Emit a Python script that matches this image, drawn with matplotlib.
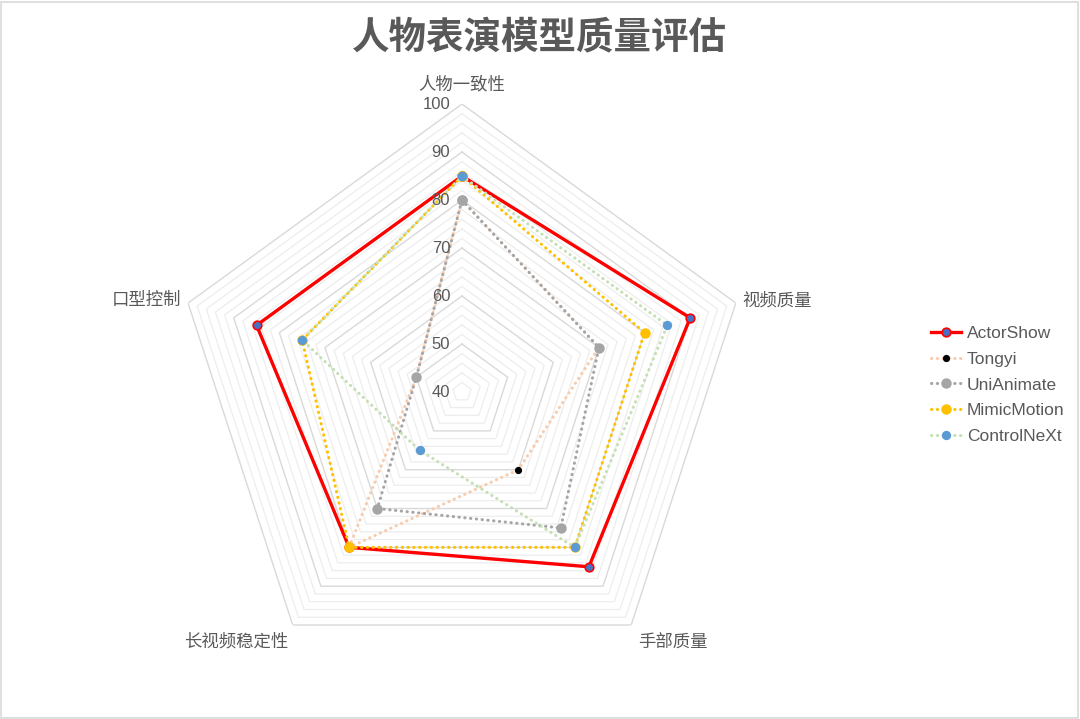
import numpy as np
import matplotlib.pyplot as plt
from matplotlib.patches import Rectangle

plt.rcParams['font.family'] = ['Liberation Sans', 'Noto Sans CJK SC', 'DejaVu Sans']

# data
title = "人物表演模型质量评估"
categories = ["人物一致性", "视频质量", "手部质量", "长视频稳定性", "口型控制"]
models = ["ActorShow", "Tongyi", "UniAnimate", "MimicMotion", "ControlNeXt"]
actorshow = [85, 90, 85, 80, 85]
tongyi = [80, 70, 60, 80, 50]
unianimate = [80, 70, 75, 70, 50]
mimicmotion = [85, 80, 80, 80, 75]
controlnext = [85, 85, 80, 55, 75]
r_ticks = [40, 50, 60, 70, 80, 90, 100]

series = [actorshow, tongyi, unianimate, mimicmotion, controlnext]

# styles: line colour, line style, marker face, marker edge, marker size, line width
dots = (0, (0.1, 1.8))
styles = [
    dict(color="#FF0000", ls="-", mfc="#4472C4", mec="#FF0000", ms=6.2, lw=2.4),
    dict(color="#F8CBAD", ls=dots, mfc="#000000", mec="#000000", ms=4, lw=2.2),
    dict(color="#A5A5A5", ls=dots, mfc="#A5A5A5", mec="#A5A5A5", ms=6.3, lw=2.2),
    dict(color="#FFC000", ls=dots, mfc="#FFC000", mec="#FFC000", ms=6.3, lw=2.2),
    dict(color="#C5E0B4", ls=dots, mfc="#5B9BD5", mec="#5B9BD5", ms=5.5, lw=2.2),
]

text_color = "#595959"

fig = plt.figure(figsize=(10.8, 7.19), dpi=100)
ax = fig.add_axes([0.1611, 0.0542, 0.5333, 0.8011], polar=True)
ax.set_theta_offset(np.pi / 2)
ax.set_theta_direction(-1)

n = len(categories)
theta = np.arange(n) * 2 * np.pi / n
theta_c = np.append(theta, theta[0])

# pentagon gridlines, every 2 units, darker every 10
for r in range(42, 101, 2):
    if r % 10 == 0:
        ax.plot(theta_c, [r] * (n + 1), color="#D9D9D9", lw=1.0, zorder=1)
    else:
        ax.plot(theta_c, [r] * (n + 1), color="#EDEDED", lw=0.9, zorder=1)

handles = []
for name, vals, st in zip(models, series, styles):
    v = vals + vals[:1]
    line, = ax.plot(theta_c, v, color=st["color"], linestyle=st["ls"], lw=st["lw"],
                    dash_capstyle="round", marker="o", markersize=st["ms"],
                    markerfacecolor=st["mfc"], markeredgecolor=st["mec"],
                    markeredgewidth=1.2, zorder=3, label=name)
    handles.append(line)

ax.set_ylim(40, 100)
ax.grid(False)
ax.set_xticks([])
ax.set_yticks([])
ax.spines["polar"].set_visible(False)
ax.patch.set_alpha(0)

# radial value labels along the top axis
for r in r_ticks:
    ax.annotate(str(r), xy=(0, r), xytext=(-8.5, 0), textcoords="offset points",
                ha="right", va="center", fontsize=12, color=text_color)

# category labels
offsets = [((0, 14.5), "center"), ((5, 2), "left"), ((5, -12), "left"),
           ((-3.5, -12), "right"), ((-5, 2), "right")]
for t, lab, (off, ha) in zip(theta, categories, offsets):
    ax.annotate(lab, xy=(t, 100), xytext=off, textcoords="offset points",
                ha=ha, va="center", fontsize=12.5, color=text_color)

fig.text(0.4995, 1 - 38 / 719, title, ha="center", va="center", fontsize=27,
         fontweight="bold", color=text_color)

fig.legend(handles=handles, labels=models, loc="center left",
           bbox_to_anchor=(915 / 1080, 1 - 385 / 719), frameon=False,
           fontsize=12.5, handlelength=1.75, labelspacing=0.62, handletextpad=0.35,
           labelcolor=text_color)

fig.patches.append(Rectangle((0.001, 0.0015), 0.997, 0.996, transform=fig.transFigure,
                             fill=False, edgecolor="#D9D9D9", lw=1.2))

fig.savefig("out.png", dpi=100)
